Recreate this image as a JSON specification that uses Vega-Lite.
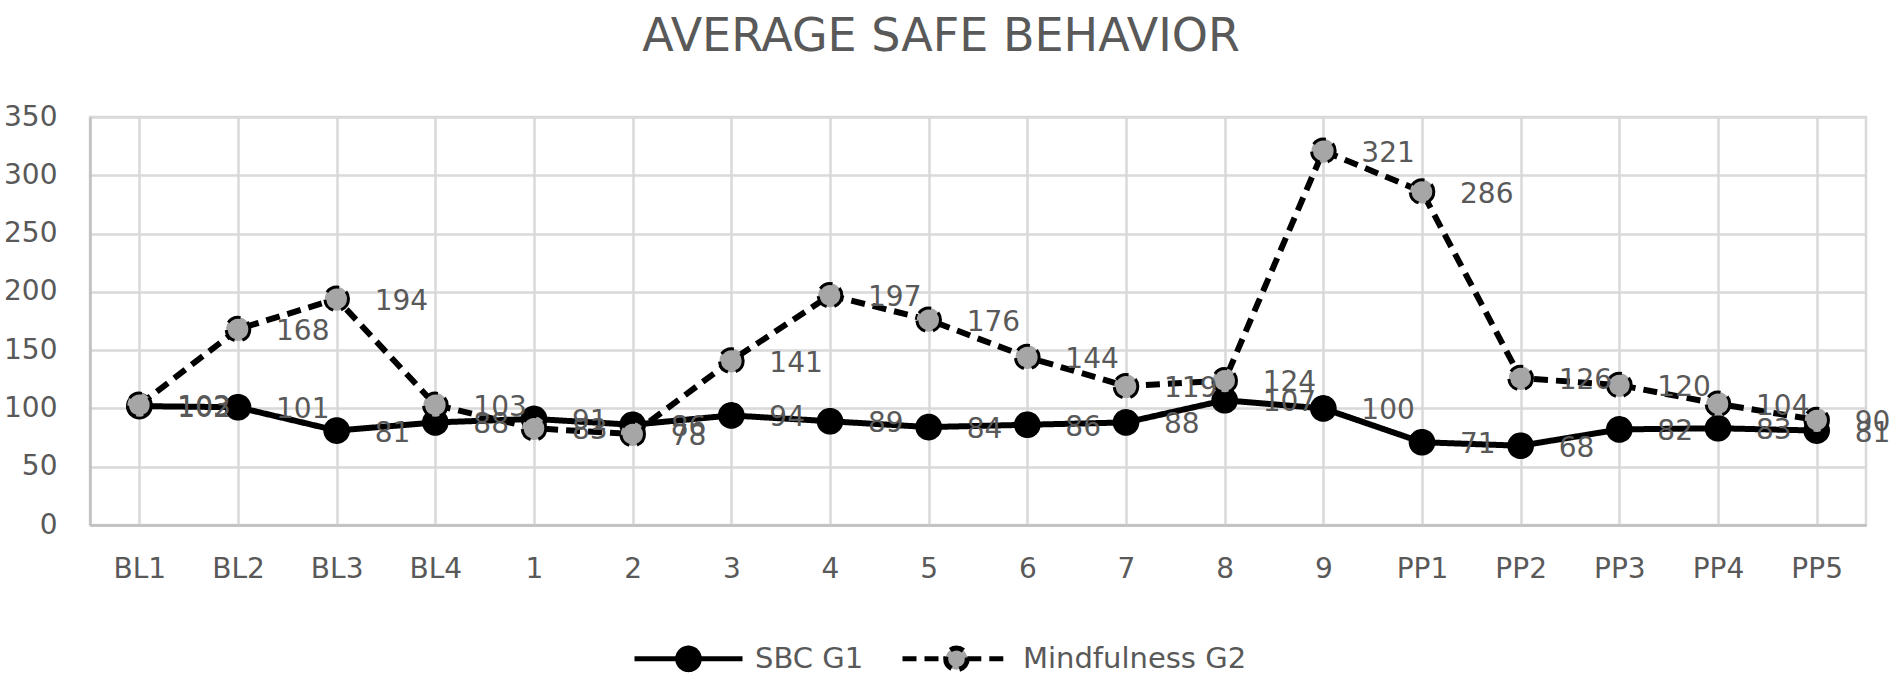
{
  "$schema": "https://vega.github.io/schema/vega-lite/v6.json",
  "description": "Average safe behavior by session, SBC G1 vs Mindfulness G2",
  "width": 1776,
  "height": 408,
  "autosize": {"type": "none"},
  "padding": {"left": 90, "top": 117, "right": 26, "bottom": 154},
  "background": "white",
  "title": {
    "text": "AVERAGE SAFE BEHAVIOR",
    "font": "DejaVu Sans",
    "fontSize": 46,
    "fontWeight": "normal",
    "color": "#595959",
    "anchor": "middle",
    "frame": "group",
    "dx": -37,
    "baseline": "alphabetic",
    "offset": 6
  },
  "config": {
    "view": {"stroke": "#d9d9d9", "strokeWidth": 2.5},
    "axis": {
      "labelFont": "DejaVu Sans",
      "labelFontSize": 28,
      "labelColor": "#595959",
      "gridColor": "#d9d9d9",
      "gridWidth": 2.5,
      "domainColor": "#bfbfbf",
      "domainWidth": 2.5,
      "ticks": false,
      "title": null
    }
  },
  "data": {
    "values": [
      {"session": "BL1", "series": "SBC G1", "value": 102},
      {"session": "BL2", "series": "SBC G1", "value": 101},
      {"session": "BL3", "series": "SBC G1", "value": 81},
      {"session": "BL4", "series": "SBC G1", "value": 88},
      {"session": "1", "series": "SBC G1", "value": 91},
      {"session": "2", "series": "SBC G1", "value": 86},
      {"session": "3", "series": "SBC G1", "value": 94},
      {"session": "4", "series": "SBC G1", "value": 89},
      {"session": "5", "series": "SBC G1", "value": 84},
      {"session": "6", "series": "SBC G1", "value": 86},
      {"session": "7", "series": "SBC G1", "value": 88},
      {"session": "8", "series": "SBC G1", "value": 107},
      {"session": "9", "series": "SBC G1", "value": 100},
      {"session": "PP1", "series": "SBC G1", "value": 71},
      {"session": "PP2", "series": "SBC G1", "value": 68},
      {"session": "PP3", "series": "SBC G1", "value": 82},
      {"session": "PP4", "series": "SBC G1", "value": 83},
      {"session": "PP5", "series": "SBC G1", "value": 81},
      {"session": "BL1", "series": "Mindfulness G2", "value": 103},
      {"session": "BL2", "series": "Mindfulness G2", "value": 168},
      {"session": "BL3", "series": "Mindfulness G2", "value": 194},
      {"session": "BL4", "series": "Mindfulness G2", "value": 103},
      {"session": "1", "series": "Mindfulness G2", "value": 83},
      {"session": "2", "series": "Mindfulness G2", "value": 78},
      {"session": "3", "series": "Mindfulness G2", "value": 141},
      {"session": "4", "series": "Mindfulness G2", "value": 197},
      {"session": "5", "series": "Mindfulness G2", "value": 176},
      {"session": "6", "series": "Mindfulness G2", "value": 144},
      {"session": "7", "series": "Mindfulness G2", "value": 119},
      {"session": "8", "series": "Mindfulness G2", "value": 124},
      {"session": "9", "series": "Mindfulness G2", "value": 321},
      {"session": "PP1", "series": "Mindfulness G2", "value": 286},
      {"session": "PP2", "series": "Mindfulness G2", "value": 126},
      {"session": "PP3", "series": "Mindfulness G2", "value": 120},
      {"session": "PP4", "series": "Mindfulness G2", "value": 104},
      {"session": "PP5", "series": "Mindfulness G2", "value": 90}
    ]
  },
  "encoding": {
    "x": {
      "field": "session",
      "type": "nominal",
      "sort": ["BL1", "BL2", "BL3", "BL4", "1", "2", "3", "4", "5", "6", "7", "8", "9", "PP1", "PP2", "PP3", "PP4", "PP5"],
      "scale": {"paddingInner": 0, "paddingOuter": 0},
      "axis": {"grid": true, "bandPosition": 0, "labelAngle": 0, "labelPadding": 30}
    },
    "y": {
      "field": "value",
      "type": "quantitative",
      "scale": {"domain": [0, 350], "nice": false},
      "axis": {"values": [0, 50, 100, 150, 200, 250, 300, 350], "labelPadding": 33}
    }
  },
  "layer": [
    {
      "mark": {"type": "line", "color": "black", "strokeWidth": 6},
      "encoding": {
        "detail": {"field": "series"},
        "strokeDash": {
          "field": "series",
          "type": "nominal",
          "scale": {"domain": ["SBC G1", "Mindfulness G2"], "range": [[1, 0], [14, 8]]},
          "legend": {
            "title": null,
            "orient": "none",
            "legendX": 542,
            "legendY": 485,
            "direction": "horizontal",
            "padding": 0,
            "symbolType": "M-1,0L-0.2,0M0.2,0L1,0M0.2,0A0.2,0.2,0,1,1,-0.2,0A0.2,0.2,0,1,1,0.2,0Z",
            "symbolSize": 11664,
            "symbolStrokeWidth": 5,
            "symbolStrokeColor": "black",
            "labelFont": "DejaVu Sans",
            "labelFontSize": 29,
            "labelColor": "#595959",
            "labelLimit": 400,
            "labelOffset": 10,
            "columnPadding": 28
          }
        }
      }
    },
    {
      "mark": {"type": "point", "filled": true, "size": 560, "stroke": "black", "strokeWidth": 3, "opacity": 1},
      "encoding": {
        "fill": {
          "field": "series",
          "type": "nominal",
          "scale": {"domain": ["SBC G1", "Mindfulness G2"], "range": ["black", "#a6a6a6"]},
          "legend": {
            "title": null,
            "orient": "none",
            "legendX": 542,
            "legendY": 485,
            "direction": "horizontal",
            "padding": 0,
            "symbolType": "M-1,0L-0.2,0M0.2,0L1,0M0.2,0A0.2,0.2,0,1,1,-0.2,0A0.2,0.2,0,1,1,0.2,0Z",
            "symbolSize": 11664,
            "symbolStrokeWidth": 5,
            "symbolStrokeColor": "black",
            "labelFont": "DejaVu Sans",
            "labelFontSize": 29,
            "labelColor": "#595959",
            "labelLimit": 400,
            "labelOffset": 10,
            "columnPadding": 28
          }
        },
        "strokeDash": {"field": "series", "type": "nominal"}
      }
    },
    {
      "mark": {
        "type": "text",
        "align": "left",
        "baseline": "middle",
        "dx": 38,
        "dy": 3,
        "font": "DejaVu Sans",
        "fontSize": 28,
        "color": "#595959"
      },
      "encoding": {
        "text": {"field": "value", "type": "quantitative"}
      }
    }
  ]
}
